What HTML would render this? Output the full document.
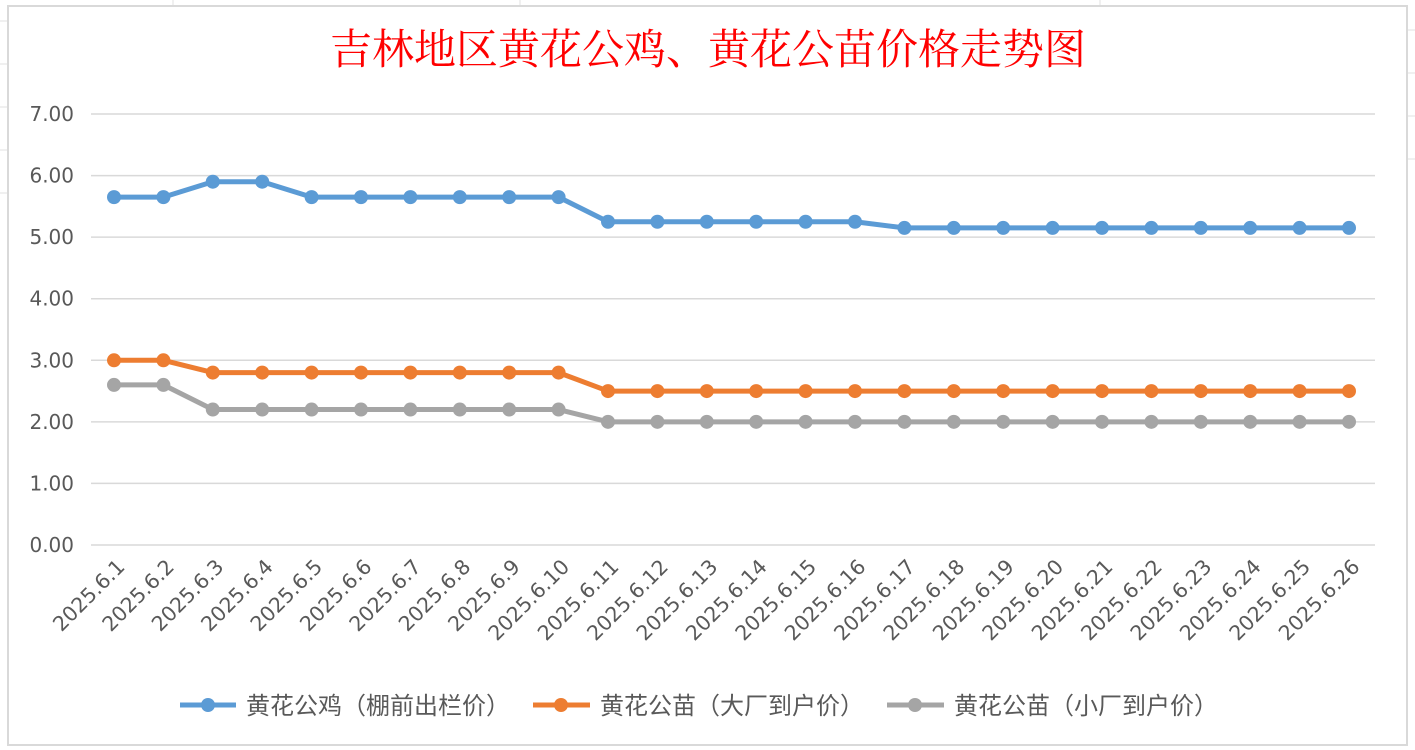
<!DOCTYPE html>
<html><head><meta charset="utf-8"><style>
body{margin:0;background:#fff;width:1415px;height:750px;overflow:hidden;font-family:"DejaVu Sans","Noto Sans CJK SC",sans-serif}
svg{display:block}
</style></head><body>
<svg id="chart" width="1415" height="750" viewBox="0 0 1415 750" xmlns="http://www.w3.org/2000/svg">
<g stroke="#e2e2e2" stroke-width="1">
<line x1="0" y1="21" x2="8" y2="21"/><line x1="0" y1="64" x2="8" y2="64"/><line x1="0" y1="107" x2="8" y2="107"/><line x1="0" y1="150" x2="8" y2="150"/><line x1="0" y1="193" x2="8" y2="193"/>
<line x1="1407" y1="30" x2="1415" y2="30"/><line x1="1407" y1="73" x2="1415" y2="73"/><line x1="1407" y1="116" x2="1415" y2="116"/><line x1="1407" y1="159" x2="1415" y2="159"/>
<line x1="173" y1="0" x2="173" y2="6"/><line x1="520" y1="0" x2="520" y2="6"/><line x1="1100" y1="0" x2="1100" y2="6"/>
</g>
<rect x="8" y="6" width="1399" height="739" fill="#fff" stroke="#d9d9d9" stroke-width="2"/>
<text x="708" y="64" text-anchor="middle" fill="#ff0000" font-size="42" font-family="'Liberation Serif','Noto Serif CJK SC',serif">吉林地区黄花公鸡、黄花公苗价格走势图</text>
<g id="grid"></g>
<g id="yticks"></g>
<g id="xticks"></g>
<g id="series"></g>
<g font-size="24" fill="#595959" font-family="'Noto Sans CJK SC',sans-serif">
<g><line x1="180" y1="705" x2="236" y2="705" stroke="#5b9bd5" stroke-width="5"/><circle cx="208" cy="705" r="7" fill="#5b9bd5"/><text x="246" y="714">黄花公鸡（棚前出栏价）</text></g>
<g><line x1="533" y1="705" x2="590" y2="705" stroke="#ed7d31" stroke-width="5"/><circle cx="561" cy="705" r="7" fill="#ed7d31"/><text x="600" y="714">黄花公苗（大厂到户价）</text></g>
<g><line x1="887" y1="705" x2="944" y2="705" stroke="#a5a5a5" stroke-width="5"/><circle cx="915" cy="705" r="7" fill="#a5a5a5"/><text x="954" y="714">黄花公苗（小厂到户价）</text></g>
</g>
</svg>
<script>
const categories=["2025.6.1","2025.6.2","2025.6.3","2025.6.4","2025.6.5","2025.6.6","2025.6.7","2025.6.8","2025.6.9","2025.6.10","2025.6.11","2025.6.12","2025.6.13","2025.6.14","2025.6.15","2025.6.16","2025.6.17","2025.6.18","2025.6.19","2025.6.20","2025.6.21","2025.6.22","2025.6.23","2025.6.24","2025.6.25","2025.6.26"];
const roosterPrice=[5.65,5.65,5.9,5.9,5.65,5.65,5.65,5.65,5.65,5.65,5.25,5.25,5.25,5.25,5.25,5.25,5.15,5.15,5.15,5.15,5.15,5.15,5.15,5.15,5.15,5.15];
const chickLargePrice=[3.0,3.0,2.8,2.8,2.8,2.8,2.8,2.8,2.8,2.8,2.5,2.5,2.5,2.5,2.5,2.5,2.5,2.5,2.5,2.5,2.5,2.5,2.5,2.5,2.5,2.5];
const chickSmallPrice=[2.6,2.6,2.2,2.2,2.2,2.2,2.2,2.2,2.2,2.2,2.0,2.0,2.0,2.0,2.0,2.0,2.0,2.0,2.0,2.0,2.0,2.0,2.0,2.0,2.0,2.0];
const yTicks=[0,1,2,3,4,5,6,7];
const NS="http://www.w3.org/2000/svg";
const yScale=v=>545-v*(431/7);
const xScale=i=>114+i*(1235/(categories.length-1));
function mk(tag,attrs,parent){const e=document.createElementNS(NS,tag);for(const k in attrs)e.setAttribute(k,attrs[k]);parent.appendChild(e);return e;}
const grid=document.getElementById('grid'),yt=document.getElementById('yticks'),xt=document.getElementById('xticks'),sg=document.getElementById('series');
yTicks.forEach(v=>{
 const l=mk('line',{x1:91,x2:1375,y1:yScale(v),y2:yScale(v),stroke:'#d9d9d9','stroke-width':1.5},grid);
 
 
 const t=mk('text',{x:74,y:yScale(v)+7,'text-anchor':'end','font-size':20,fill:'#595959'},yt);
 
 
 t.textContent=v.toFixed(2);
});
categories.forEach((c,i)=>{
 const x=xScale(i)+12,y=568;
 const t=mk('text',{x:x,y:y,'text-anchor':'end','font-size':20.5,fill:'#595959',transform:`rotate(-45 ${x} ${y})`},xt);
 
 
 t.textContent=c;
});
[[roosterPrice,'#5b9bd5','rooster'],[chickLargePrice,'#ed7d31','chick-large'],[chickSmallPrice,'#a5a5a5','chick-small']].forEach(([d,col,n])=>{
 const p=mk('polyline',{points:d.map((v,i)=>xScale(i)+','+yScale(v)).join(' '),fill:'none',stroke:col,'stroke-width':5,'stroke-linejoin':'round'},sg);
 
 
 d.forEach((v,i)=>{
  const c=mk('circle',{cx:xScale(i),cy:yScale(v),r:7,fill:col},sg);
  
  
 });
});
</script>
</body></html>
